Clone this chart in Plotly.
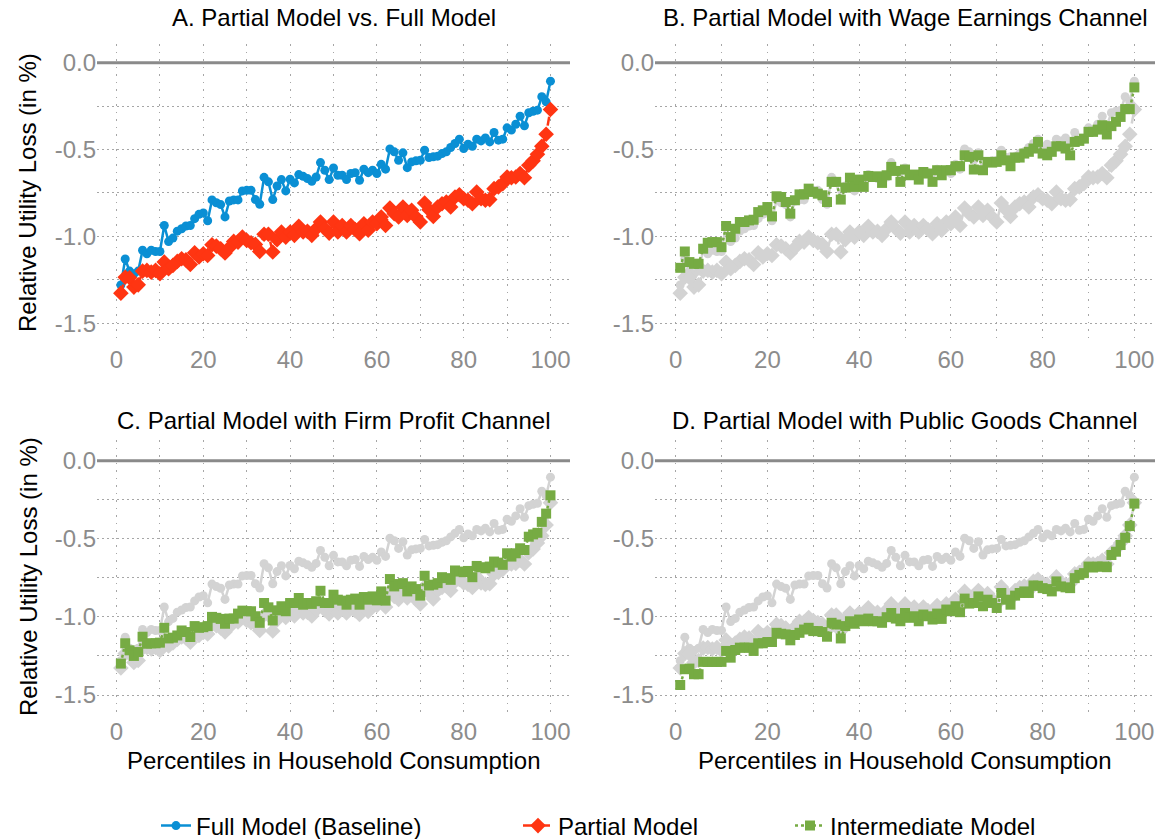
import plotly.graph_objects as go

# ---------------- data ----------------
percentiles = list(range(1, 101))

full_model = [
    -1.28, -1.13, -1.20, -1.215, -1.20, -1.08, -1.10, -1.08, -1.087, -1.087,
    -0.937, -1.03, -1.01, -0.97, -0.956, -0.94, -0.937, -0.898, -0.873, -0.865,
    -0.91, -0.79, -0.806, -0.817, -0.888, -0.796, -0.79, -0.79, -0.738, -0.735,
    -0.735, -0.788, -0.815, -0.66, -0.686, -0.788, -0.71, -0.673, -0.738, -0.671,
    -0.692, -0.644, -0.654, -0.667, -0.683, -0.658, -0.575, -0.619, -0.673, -0.606,
    -0.648, -0.648, -0.673, -0.638, -0.633, -0.677, -0.613, -0.633, -0.619, -0.638,
    -0.585, -0.613, -0.496, -0.513, -0.562, -0.519, -0.604, -0.571, -0.565, -0.562,
    -0.504, -0.546, -0.542, -0.538, -0.523, -0.513, -0.488, -0.465, -0.44, -0.494,
    -0.469, -0.481, -0.44, -0.45, -0.433, -0.456, -0.402, -0.446, -0.44, -0.375,
    -0.388, -0.354, -0.308, -0.363, -0.288, -0.279, -0.273, -0.196, -0.225, -0.106,
]

partial_model = [
    -1.327, -1.235, -1.238, -1.292, -1.279, -1.20, -1.196, -1.206, -1.196, -1.215,
    -1.148, -1.186, -1.167, -1.144, -1.129, -1.135, -1.162, -1.094, -1.119, -1.10,
    -1.11, -1.048, -1.056, -1.071, -1.096, -1.065, -1.029, -1.033, -1.004, -1.023,
    -1.037, -1.046, -1.087, -0.988, -0.988, -1.09, -1.019, -0.975, -1.004, -0.975,
    -0.994, -0.942, -0.975, -0.971, -0.994, -0.956, -0.917, -0.956, -0.981, -0.917,
    -0.975, -0.937, -0.975, -0.937, -0.96, -0.985, -0.927, -0.965, -0.917, -0.927,
    -0.888, -0.937, -0.837, -0.869, -0.888, -0.831, -0.879, -0.85, -0.888, -0.917,
    -0.808, -0.846, -0.885, -0.831, -0.812, -0.802, -0.831, -0.773, -0.76, -0.783,
    -0.792, -0.812, -0.744, -0.783, -0.792, -0.788, -0.725, -0.715, -0.696, -0.658,
    -0.662, -0.658, -0.638, -0.662, -0.59, -0.565, -0.527, -0.481, -0.412, -0.269,
]

intermediate_wage = [
    -1.181, -1.087, -1.148, -1.158, -1.158, -1.071, -1.037, -1.033, -1.033, -1.062,
    -0.94, -1.004, -0.956, -0.917, -0.917, -0.908, -0.904, -0.86, -0.85, -0.831,
    -0.885, -0.769, -0.773, -0.802, -0.869, -0.792, -0.758, -0.758, -0.725, -0.744,
    -0.754, -0.763, -0.802, -0.686, -0.686, -0.788, -0.719, -0.662, -0.715, -0.673,
    -0.715, -0.652, -0.658, -0.654, -0.692, -0.648, -0.60, -0.623, -0.686, -0.615,
    -0.648, -0.644, -0.673, -0.629, -0.638, -0.686, -0.619, -0.648, -0.619, -0.619,
    -0.596, -0.596, -0.533, -0.542, -0.615, -0.533, -0.619, -0.571, -0.575, -0.571,
    -0.533, -0.562, -0.596, -0.546, -0.546, -0.523, -0.513, -0.494, -0.456, -0.523,
    -0.533, -0.513, -0.481, -0.481, -0.494, -0.533, -0.456, -0.45, -0.437, -0.398,
    -0.398, -0.385, -0.36, -0.413, -0.365, -0.34, -0.312, -0.267, -0.267, -0.142,
]

intermediate_profit = [
    -1.299, -1.169, -1.214, -1.25, -1.225, -1.127, -1.172, -1.169, -1.169, -1.165,
    -1.07, -1.138, -1.133, -1.119, -1.087, -1.097, -1.129, -1.059, -1.07, -1.066,
    -1.059, -1.0, -1.006, -1.013, -1.044, -1.011, -1.011, -0.979, -0.96, -0.964,
    -0.964, -0.996, -1.038, -0.911, -0.939, -1.023, -0.958, -0.932, -0.964, -0.911,
    -0.911, -0.879, -0.922, -0.911, -0.917, -0.90, -0.833, -0.911, -0.911, -0.858,
    -0.89, -0.896, -0.922, -0.89, -0.883, -0.922, -0.873, -0.89, -0.869, -0.894,
    -0.837, -0.896, -0.758, -0.805, -0.79, -0.784, -0.837, -0.805, -0.822, -0.864,
    -0.737, -0.799, -0.794, -0.784, -0.746, -0.752, -0.763, -0.703, -0.71, -0.714,
    -0.706, -0.746, -0.674, -0.682, -0.689, -0.678, -0.646, -0.653, -0.667, -0.593,
    -0.614, -0.593, -0.561, -0.572, -0.487, -0.472, -0.462, -0.392, -0.339, -0.222,
]

intermediate_public = [
    -1.436, -1.335, -1.331, -1.367, -1.367, -1.288, -1.288, -1.288, -1.288, -1.288,
    -1.218, -1.261, -1.212, -1.197, -1.197, -1.197, -1.218, -1.169, -1.169, -1.161,
    -1.161, -1.102, -1.108, -1.112, -1.15, -1.116, -1.102, -1.081, -1.07, -1.091,
    -1.091, -1.097, -1.127, -1.038, -1.049, -1.138, -1.059, -1.028, -1.044, -1.017,
    -1.028, -1.011, -1.028, -1.028, -1.038, -1.002, -0.975, -1.011, -1.028, -0.975,
    -1.006, -0.996, -1.028, -0.985, -0.996, -1.017, -0.979, -1.013, -0.953, -0.964,
    -0.932, -0.97, -0.883, -0.915, -0.911, -0.869, -0.932, -0.89, -0.911, -0.943,
    -0.847, -0.89, -0.922, -0.864, -0.847, -0.837, -0.847, -0.799, -0.801, -0.816,
    -0.822, -0.837, -0.773, -0.805, -0.811, -0.816, -0.752, -0.731, -0.72, -0.678,
    -0.684, -0.678, -0.678, -0.682, -0.604, -0.583, -0.54, -0.494, -0.419, -0.275,
]

panel_titles = [
    "A. Partial Model vs. Full Model",
    "B. Partial Model with Wage Earnings Channel",
    "C. Partial Model with Firm Profit Channel",
    "D. Partial Model with Public Goods Channel",
]
x_ticks = [0, 20, 40, 60, 80, 100]
x_minor = [10, 30, 50, 70, 90]
y_ticks = [0.0, -0.5, -1.0, -1.5]
y_ticktext = ["0.0", "-0.5", "-1.0", "-1.5"]
y_minor = [-0.25, -0.75, -1.25]

# ---------------- styling ----------------
W, H = 1158, 839
FONT = "Liberation Sans, Arial, Helvetica, sans-serif"
BLUE = "#0a8fd4"
RED = "#ff3512"
GREEN = "#76ab43"
GRAY = "#d3d3d3"
FS = 24

def fx(p):
    return p / W

def fy(p):
    return 1 - p / H

left_dom = [fx(97), fx(570)]
right_dom = [fx(655), fx(1155)]
top_dom = [fy(343), fy(44)]
bot_dom = [fy(715), fy(440)]

fig = go.Figure()

def full_trace(ax, color, show, legend="legend"):
    return go.Scatter(
        x=percentiles, y=full_model, xaxis="x" + ax, yaxis="y" + ax,
        mode="lines+markers", name="Full Model (Baseline)",
        line=dict(color=color, width=2.5, dash="solid"),
        marker=dict(symbol="circle", size=9, color=color),
        showlegend=show, legend=legend,
    )

def partial_trace(ax, color, show, legend="legend2"):
    return go.Scatter(
        x=percentiles, y=partial_model, xaxis="x" + ax, yaxis="y" + ax,
        mode="lines+markers", name="Partial Model",
        line=dict(color=color, width=2.5, dash="dash"),
        marker=dict(symbol="diamond", size=12, color=color),
        showlegend=show, legend=legend,
    )

def inter_trace(ax, vals, show, legend="legend3"):
    return go.Scatter(
        x=percentiles, y=vals, xaxis="x" + ax, yaxis="y" + ax,
        mode="lines+markers", name="Intermediate Model",
        line=dict(color=GREEN, width=2.5, dash="dot"),
        marker=dict(symbol="square", size=10, color=GREEN),
        showlegend=show, legend=legend,
    )

# Panel A
fig.add_trace(full_trace("", BLUE, True))
fig.add_trace(partial_trace("", RED, True))
# Panel B
fig.add_trace(full_trace("2", GRAY, False))
fig.add_trace(partial_trace("2", GRAY, False))
fig.add_trace(inter_trace("2", intermediate_wage, True))
# Panel C
fig.add_trace(full_trace("3", GRAY, False))
fig.add_trace(partial_trace("3", GRAY, False))
fig.add_trace(inter_trace("3", intermediate_profit, False))
# Panel D
fig.add_trace(full_trace("4", GRAY, False))
fig.add_trace(partial_trace("4", GRAY, False))
fig.add_trace(inter_trace("4", intermediate_public, False))

GRIDC = "#a6a6a6"

def xaxis(dom, anchor):
    return dict(
        domain=dom, anchor=anchor, range=[-4.5, 104.5],
        tickvals=x_ticks, ticks="", showline=False, zeroline=False,
        showgrid=True, gridcolor=GRIDC, gridwidth=1.2, griddash="1.5px,6px",
        minor=dict(tickvals=x_minor, showgrid=True, gridcolor=GRIDC,
                   gridwidth=1.2, griddash="1.5px,6px"),
        tickfont=dict(size=FS, color="#8c8c8c", family=FONT),
        ticklabeloverflow="allow",
        fixedrange=True,
    )

def yaxis(dom, anchor, rng):
    return dict(
        domain=dom, anchor=anchor, range=rng,
        tickvals=y_ticks, ticktext=y_ticktext, ticks="", showline=False,
        zeroline=False,
        showgrid=True, gridcolor=GRIDC, gridwidth=1.2, griddash="1.5px,3.5px",
        minor=dict(tickvals=y_minor, showgrid=True, gridcolor=GRIDC,
                   gridwidth=1.2, griddash="1.5px,3.5px"),
        tickfont=dict(size=FS, color="#8c8c8c", family=FONT),
        ticklabeloverflow="allow",
        fixedrange=True,
    )

top_rng = [-1.614, 0.108]
bot_rng = [-1.628, 0.132]

# zero reference line in every panel
shapes = []
for ax in ["", "2", "3", "4"]:
    shapes.append(dict(
        type="line", xref=("x" + ax) + " domain", yref="y" + ax,
        x0=0, x1=1, y0=0, y1=0, layer="above",
        line=dict(color="#8a8a8a", width=3),
    ))

annotations = []
centers = [
    ((97 + 570) / 2, 18), ((655 + 1155) / 2, 18),
    ((97 + 570) / 2, 420), ((655 + 1155) / 2, 420),
]
for t, (cx, cy) in zip(panel_titles, centers):
    annotations.append(dict(
        text=t, x=fx(cx), y=fy(cy), xref="paper", yref="paper",
        xanchor="center", yanchor="middle", showarrow=False,
        font=dict(size=FS, color="black", family=FONT),
    ))
for cy in [193, 577]:
    annotations.append(dict(
        text="Relative Utility Loss (in %)", x=fx(28), y=fy(cy),
        xref="paper", yref="paper", xanchor="center", yanchor="middle",
        textangle=-90, showarrow=False,
        font=dict(size=FS, color="black", family=FONT),
    ))
for cx in [334, 905]:
    annotations.append(dict(
        text="Percentiles in Household Consumption", x=fx(cx), y=fy(760),
        xref="paper", yref="paper", xanchor="center", yanchor="middle",
        showarrow=False, font=dict(size=FS, color="black", family=FONT),
    ))

def legend_at(xpx):
    return dict(
        x=fx(xpx), y=fy(826), xanchor="left", yanchor="middle",
        orientation="h", bgcolor="rgba(0,0,0,0)",
        font=dict(size=FS, color="black", family=FONT),
    )

fig.update_layout(
    width=W, height=H,
    margin=dict(l=0, r=0, t=0, b=0, pad=0, autoexpand=False),
    paper_bgcolor="white", plot_bgcolor="white",
    font=dict(family=FONT, size=FS, color="black"),
    xaxis=xaxis(left_dom, "y"), yaxis=yaxis(top_dom, "x", top_rng),
    xaxis2=xaxis(right_dom, "y2"), yaxis2=yaxis(top_dom, "x2", top_rng),
    xaxis3=xaxis(left_dom, "y3"), yaxis3=yaxis(bot_dom, "x3", bot_rng),
    xaxis4=xaxis(right_dom, "y4"), yaxis4=yaxis(bot_dom, "x4", bot_rng),
    shapes=shapes,
    annotations=annotations,
    legend=legend_at(156),
    legend2=legend_at(518),
    legend3=legend_at(790),
    hovermode=False,
)

page_fix = (
    "var s=document.createElement('style');"
    "s.textContent='html,body{margin:0;padding:0;width:1158px;height:839px;overflow:hidden;}"
    "body>div{display:block;height:839px;overflow:hidden;}';"
    "document.head.appendChild(s);"
)

fig.write_html(
    "out.html",
    config={"displayModeBar": False},
    post_script=page_fix,
)
